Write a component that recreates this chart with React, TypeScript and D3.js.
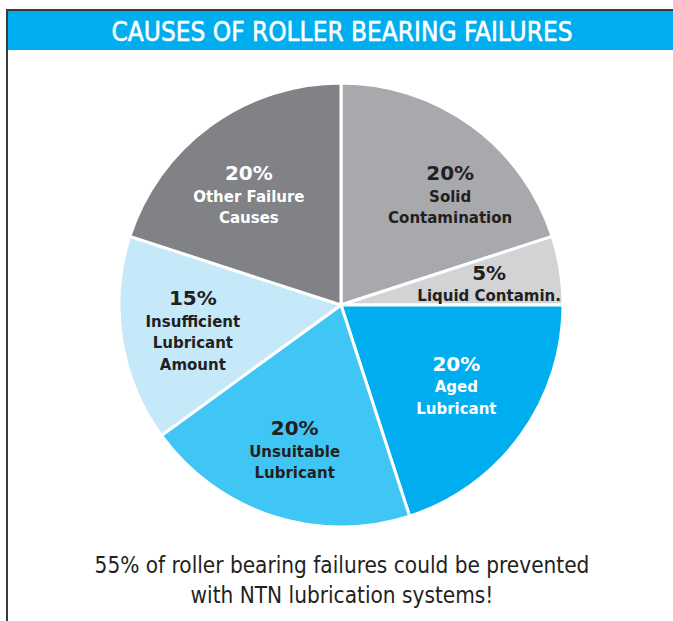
import { useEffect, useRef } from "react";
import * as d3 from "d3";

// chart data
const causes = [
  "Solid Contamination",
  "Liquid Contamin.",
  "Aged Lubricant",
  "Unsuitable Lubricant",
  "Insufficient Lubricant Amount",
  "Other Failure Causes",
];
const shares = [20, 5, 20, 20, 15, 20];
const labelLines = [
  ["Solid", "Contamination"],
  ["Liquid Contamin."],
  ["Aged", "Lubricant"],
  ["Unsuitable", "Lubricant"],
  ["Insufficient", "Lubricant", "Amount"],
  ["Other Failure", "Causes"],
];
const sliceColors = ["#a7a9ac", "#d1d3d4", "#00aeef", "#40c6f4", "#c6e9f9", "#808285"];
const labelColors = ["#231f20", "#231f20", "#ffffff", "#231f20", "#231f20", "#ffffff"];

const title = "CAUSES OF ROLLER BEARING FAILURES";
const footnote = [
  "55% of roller bearing failures could be prevented",
  "with NTN lubrication systems!",
];

const W = 673;
const H = 621;

export default function App() {
  const ref = useRef<SVGSVGElement>(null);

  useEffect(() => {
    if (!ref.current) return;
    const svg = d3.select(ref.current);
    svg.selectAll("*").remove();

    // frame + header band
    svg.append("rect")
      .attr("x", 8).attr("y", 11)
      .attr("width", W).attr("height", 39)
      .attr("fill", "#00aeef");
    svg.append("path")
      .attr("d", `M7,${H} L7,10 L${W},10`)
      .attr("fill", "none")
      .attr("stroke", "#3a3a3a")
      .attr("stroke-width", 2);

    svg.append("text")
      .attr("x", 342).attr("y", 41)
      .attr("text-anchor", "middle")
      .attr("fill", "#fff")
      .attr("stroke", "#fff")
      .attr("stroke-width", 0.5)
      .attr("font-family", "'DejaVu Sans Condensed', 'DejaVu Sans', sans-serif")
      .attr("font-stretch", "condensed")
      .attr("font-size", 26)
      .attr("textLength", 461)
      .attr("lengthAdjust", "spacingAndGlyphs")
      .text(title);

    // pie
    const cx = 341, cy = 305, r = 222;
    const pie = d3.pie<number>().sort(null).value((d) => d);
    const arcs = pie(shares);
    const arc = d3.arc<d3.PieArcDatum<number>>().innerRadius(0).outerRadius(r);
    const labelArc = d3.arc<d3.PieArcDatum<number>>().innerRadius(150).outerRadius(150);

    const g = svg.append("g").attr("transform", `translate(${cx},${cy})`);
    g.selectAll("path.slice")
      .data(arcs)
      .join("path")
      .attr("class", "slice")
      .attr("d", arc)
      .attr("fill", (_, i) => sliceColors[i])
      .attr("stroke", "#fff")
      .attr("stroke-width", 3)
      .attr("stroke-linejoin", "round");

    // small nudges so the labels sit like the original
    const nudge: Record<string, [number, number]> = {
      "Solid Contamination": [21, 9],
      "Aged Lubricant": [-6, -10],
      "Other Failure Causes": [-4, 9],
    };

    const labels = g.selectAll("g.lbl")
      .data(arcs)
      .join("g")
      .attr("class", "lbl")
      .attr("transform", (d, i) => {
        const [x, y] = labelArc.centroid(d);
        const [nx, ny] = nudge[causes[i]] || [0, 0];
        return `translate(${x + nx},${y + ny})`;
      });

    labels.each(function (d, i) {
      const sel = d3.select(this);
      const lines = labelLines[i];
      const n = lines.length;
      const step = 21.5;
      const top = -((n) * step + 22) / 2 + 17;
      sel.append("text")
        .attr("text-anchor", "middle")
        .attr("y", top + 3)
        .attr("fill", labelColors[i])
        .attr("font-family", "'DejaVu Sans', sans-serif")
        .attr("font-weight", "bold")
        .attr("font-size", 20)
        .text(`${d.data}%`);
      lines.forEach((t, k) => {
        sel.append("text")
          .attr("text-anchor", "middle")
          .attr("y", top + 3 + step * (k + 1))
          .attr("fill", labelColors[i])
          .attr("font-family", "'DejaVu Sans', sans-serif")
          .attr("font-weight", "bold")
          .attr("font-size", 15)
          .text(t);
      });
    });

    // footnote
    footnote.forEach((t, k) => {
      svg.append("text")
        .attr("x", 342)
        .attr("y", 573 + k * 30)
        .attr("text-anchor", "middle")
        .attr("fill", "#231f20")
        .attr("font-family", "'DejaVu Sans Condensed', 'DejaVu Sans', sans-serif")
        .attr("font-stretch", "condensed")
        .attr("font-size", 22.4)
        .text(t);
    });
  }, []);

  return (
    <svg
      ref={ref}
      width={W}
      height={H}
      style={{ position: "absolute", left: 0, top: 0, background: "#fff" }}
    />
  );
}
